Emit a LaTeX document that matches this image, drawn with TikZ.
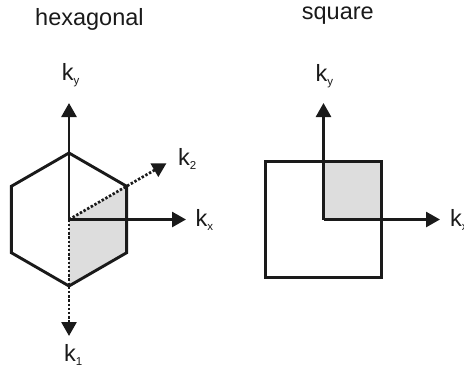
\documentclass[tikz,border=0pt]{standalone}
\usepackage{fontspec}
\setmainfont{Liberation Sans}
\usetikzlibrary{arrows.meta}
\definecolor{ink}{HTML}{1A1A1A}
\definecolor{lightfill}{HTML}{DDDDDD}
\newcommand\kk[1]{k\raisebox{-4pt}{\fontsize{11.5}{12}\selectfont #1}}
\begin{document}
\begin{tikzpicture}[x=1pt,y=-1pt,
  outline/.style={draw=ink,line width=2.9pt,line join=miter},
  axis/.style={draw=ink,line width=2.7pt,-{Triangle[length=14pt,width=15pt]}},
  dotaxis/.style={axis,dash pattern=on 2.4pt off 1.8pt},
  lbl/.style={anchor=base west,inner sep=0pt,text=ink,font=\fontsize{23.5}{26}\selectfont},
  ttl/.style={anchor=base west,inner sep=0pt,text=ink,font=\fontsize{23.5}{26}\selectfont}]
\useasboundingbox (0,0) rectangle (464,376);
% titles
\node[ttl] (thex) at (35,25) {hexagonal};
\node[ttl] (tsq) at (301.7,19.5) {square};
% hexagon
\coordinate (O) at (69,219.5);
\coordinate (H1) at (69,153);
\coordinate (H2) at (126.6,186.25);
\coordinate (H3) at (126.6,252.75);
\coordinate (H4) at (69,286);
\coordinate (H5) at (11.4,252.75);
\coordinate (H6) at (11.4,186.25);
\fill[lightfill] (O) -- (H2) -- (H3) -- (H4) -- cycle;
\draw[outline] (H1) -- (H2) -- (H3) -- (H4) -- (H5) -- (H6) -- cycle;
\coordinate (TY) at (69,103);
\coordinate (TX) at (186,219.5);
\coordinate (T2) at (166.5,163.2);
\coordinate (T1) at (69,336);
\draw[axis] (O) -- (TY);
\draw[axis] (O) -- (TX);
\draw[dotaxis] (O) -- (T2);
\draw[dotaxis] (O) -- (T1);
\node[lbl] (lky) at (61.7,80) {\kk{y}};
\node[lbl] (lkx) at (195.5,226.5) {\kk{x}};
\node[lbl] (lk2) at (178,165) {\kk{2}};
\node[lbl] (lk1) at (64,361.7) {\kk{1}};
% square
\coordinate (S) at (323.5,219.5);
\coordinate (SNE) at (381.8,161.7);
\fill[lightfill] (S) rectangle (SNE);
\draw[outline] (265.3,161.7) rectangle (381.8,277.3);
\coordinate (SY) at (323.5,103);
\coordinate (SX) at (440,219.5);
\draw[axis] (S) -- (SY);
\draw[axis] (S) -- (SX);
\node[lbl] (sky) at (315.3,81.5) {\kk{y}};
\node[lbl] (skx) at (450,226.5) {\kk{x}};
\end{tikzpicture}
\end{document}
